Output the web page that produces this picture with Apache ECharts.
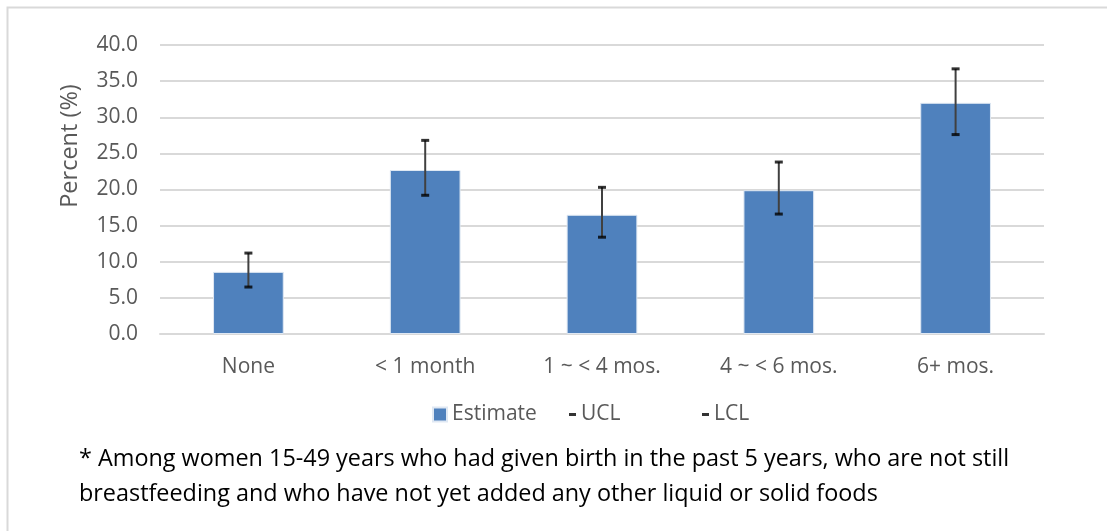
<!DOCTYPE html>
<html>
<head>
<meta charset="utf-8">
<script src="https://cdn.jsdelivr.net/npm/echarts@6/dist/echarts.min.js"></script>
<style>
html,body{margin:0;padding:0;background:#fff;}
#c{width:1107px;height:531px;}
</style>
</head>
<body>
<div id="c"></div>
<script>
const categories = ['None', '< 1 month', '1 ~ < 4 mos.', '4 ~ < 6 mos.', '6+ mos.'];
const estimate = [8.6, 22.7, 16.5, 19.9, 32.0];
const ucl = [11.2, 26.8, 20.3, 23.8, 36.7];
const lcl = [6.5, 19.2, 13.4, 16.6, 27.6];
const yTicks = [0, 5, 10, 15, 20, 25, 30, 35, 40];

const FONT = '"Open Sans", "Noto Sans", sans-serif';
const chart = echarts.init(document.getElementById('c'));
const errData = categories.map((c, i) => [i, ucl[i], lcl[i]]);

chart.setOption({
  animation: false,
  backgroundColor: '#fff',
  grid: { left: 160, right: 63, top: 45, bottom: 197 },
  legend: [
    { data: [{ name: 'Estimate', icon: 'rect' }], left: 432, top: 404, padding: 0, itemWidth: 14, itemHeight: 14, itemGap: 5,
      textStyle: { fontFamily: FONT, fontSize: 21, color: '#595959', padding: [0, 0, 0, 0] } },
    { data: [{ name: 'UCL', icon: 'rect' }], left: 569, top: 404, padding: 0, itemWidth: 7, itemHeight: 3,
      textStyle: { fontFamily: FONT, fontSize: 21, color: '#595959' } },
    { data: [{ name: 'LCL', icon: 'rect' }], left: 702, top: 404, padding: 0, itemWidth: 7, itemHeight: 3,
      textStyle: { fontFamily: FONT, fontSize: 21, color: '#595959' } }
  ],
  xAxis: {
    type: 'category',
    data: categories,
    axisLine: { lineStyle: { color: '#d9d9d9', width: 2 } },
    axisTick: { show: false },
    axisLabel: { fontFamily: FONT, fontSize: 21, color: '#595959', margin: 23 }
  },
  yAxis: {
    type: 'value',
    min: 0, max: 40, interval: 5,
    axisLine: { show: false },
    axisTick: { show: false },
    axisLabel: { fontFamily: FONT, fontSize: 21, color: '#595959', margin: 22,
      formatter: v => yTicks.includes(v) ? v.toFixed(1) : '' },
    splitLine: { lineStyle: { color: '#d9d9d9', width: 2 } }
  },
  graphic: [
    { type: 'rect', left: 5, top: 5, shape: { width: 1110, height: 540 }, style: { fill: 'none', stroke: '#d9d9d9', lineWidth: 2 }, silent: true },
    { type: 'text', x: 70, y: 146, rotation: Math.PI / 2,
      style: { text: 'Percent (%)', fontFamily: FONT, fontSize: 23.5, fill: '#595959', textAlign: 'center', textVerticalAlign: 'middle' } },
    { type: 'text', left: 79, top: 442,
      style: { text: '* Among women 15-49 years who had given birth in the past 5 years, who are not still\nbreastfeeding and who have not yet added any other liquid or solid foods',
        fontFamily: FONT, fontSize: 23.4, fill: '#000', lineHeight: 35 } }
  ],
  series: [
    {
      name: 'Estimate', type: 'bar', data: estimate, barWidth: '40%',
      itemStyle: { color: '#4f81bd', borderColor: '#dfe8f3', borderWidth: 1 }
    },
    {
      name: 'err', type: 'custom', data: errData, z: 5,
      renderItem: (params, api) => {
        const p1 = api.coord([api.value(0), api.value(1)]);
        const p2 = api.coord([api.value(0), api.value(2)]);
        return { type: 'line', shape: { x1: p1[0], y1: p1[1], x2: p2[0], y2: p2[1] },
          style: { stroke: '#404040', lineWidth: 2 } };
      }
    },
    {
      name: 'UCL', type: 'scatter', data: ucl, symbol: 'rect', symbolSize: [8, 3], z: 6,
      itemStyle: { color: '#000' }
    },
    {
      name: 'LCL', type: 'scatter', data: lcl, symbol: 'rect', symbolSize: [8, 3], z: 6,
      itemStyle: { color: '#000' }
    }
  ]
});
</script>
</body>
</html>
